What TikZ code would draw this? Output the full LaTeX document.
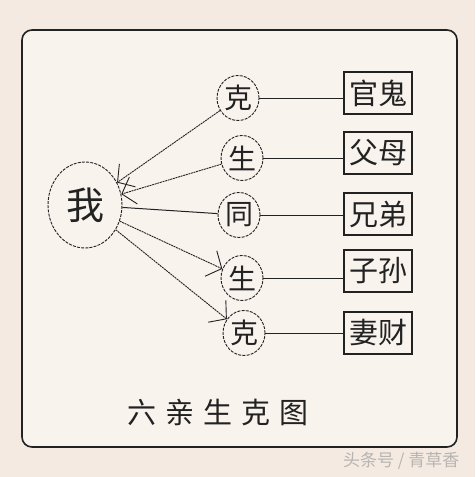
\documentclass[tikz,border=0pt]{standalone}
\usepackage{fontspec}
\newfontfamily\cjk{Noto Sans CJK SC}
\usetikzlibrary{shapes.geometric,arrows.meta}
\definecolor{outerbg}{HTML}{F4EAE2}
\definecolor{innerbg}{HTML}{F9F3EE}
\definecolor{ink}{HTML}{222222}
\definecolor{wm}{HTML}{B8B4B0}
\tikzset{
  wo/.style={ellipse,draw=ink,line width=0.9pt,dash pattern=on 3pt off 1.2pt,minimum width=74pt,minimum height=86pt,inner sep=0pt,font=\cjk\fontsize{38}{38}\selectfont,text=ink},
  rel/.style={ellipse,draw=ink,line width=0.9pt,dash pattern=on 3pt off 1.2pt,minimum width=42pt,minimum height=45pt,inner sep=0pt,font=\cjk\fontsize{28}{28}\selectfont,text=ink},
  kin/.style={rectangle,draw=ink,line width=1.3pt,minimum width=68pt,minimum height=42pt,inner sep=0pt,font=\cjk\fontsize{29}{29}\selectfont,text=ink},
  conn/.style={draw=ink,line width=0.9pt,dash pattern=on 2pt off 0.7pt},
  solidconn/.style={draw=ink,line width=1pt},
  barb/.style={-{Straight Barb[length=12pt,width=28pt,line width=0.9pt]}},
}
\begin{document}
\begin{tikzpicture}[x=1pt,y=-1pt]
\useasboundingbox (0,0) rectangle (475,477);
\fill[outerbg] (0,0) rectangle (475,477);
\draw[ink,line width=1.6pt,fill=innerbg,rounded corners=10pt] (22,30) rectangle (457,447);
% central node
\node[wo] (me) at (85,205) {我};
% relation circles
\node[rel] (r1) at (238,98) {克};
\node[rel] (r2) at (242,158) {生};
\node[rel] (r3) at (239,215) {同};
\node[rel] (r4) at (242,278) {生};
\node[rel] (r5) at (244,333) {克};
% kin boxes
\node[kin] (k1) at (378,93) {官鬼};
\node[kin] (k2) at (378,153) {父母};
\node[kin] (k3) at (378,214) {兄弟};
\node[kin] (k4) at (378,271) {子孙};
\node[kin] (k5) at (378,333) {妻财};
% connectors from relations to me
\draw[conn,barb] (r1) -- (me);
\draw[conn,barb] (r2) -- (me);
\draw[solidconn] (me) -- (r3);
\draw[conn,barb] (me) -- (r4);
\draw[conn,barb] (me) -- (r5);
% connectors to boxes
\draw[solidconn] (r1.east) -- (r1.east -| k1.west);
\draw[solidconn] (r2.east) -- (r2.east -| k2.west);
\draw[solidconn] (r3.east) -- (r3.east -| k3.west);
\draw[solidconn] (r4.east) -- (r4.east -| k4.west);
\draw[solidconn] (r5.east) -- (r5.east -| k5.west);
% title
\node[font=\cjk\fontsize{29}{29}\selectfont,text=ink] (title) at (218,412) {六\kern9pt 亲\kern9pt 生\kern9pt 克\kern9pt 图};
% watermark
\node[font=\cjk\fontsize{17}{17}\selectfont,text=wm,anchor=east] (mark) at (463,461) {头条号 / 青草香};
\end{tikzpicture}
\end{document}
